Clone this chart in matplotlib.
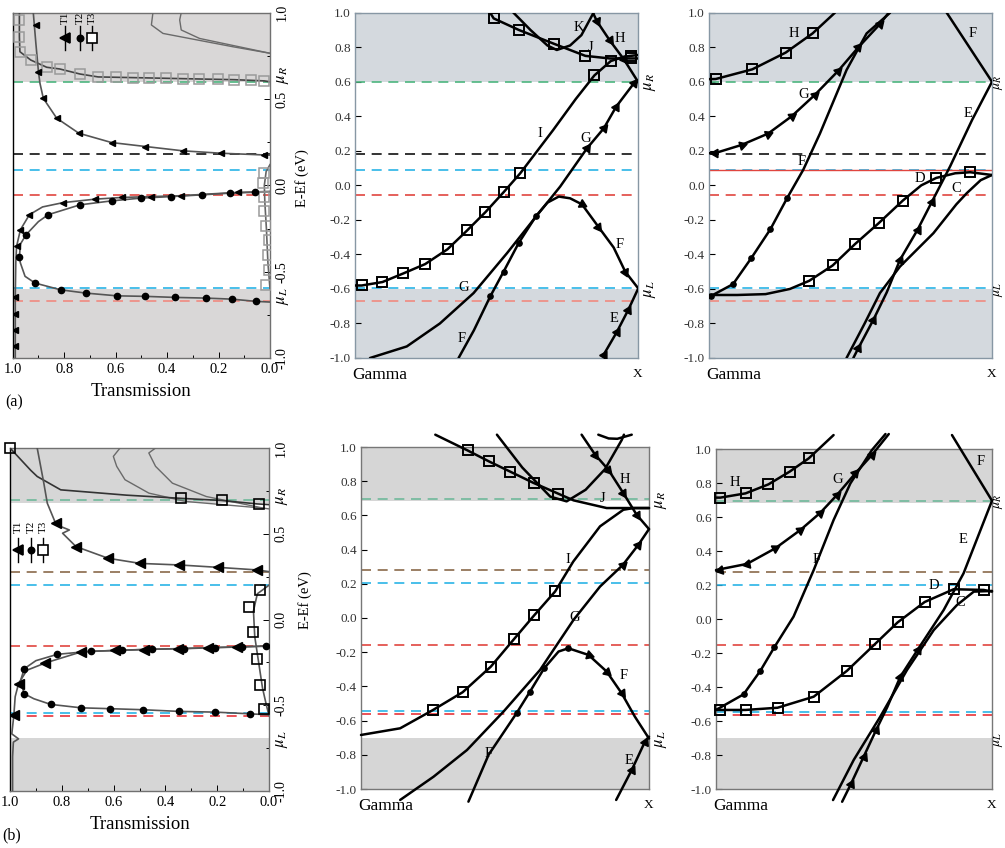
import math
import numpy as np
import matplotlib
matplotlib.use('Agg')
import matplotlib.pyplot as plt
from matplotlib import transforms as mtrans
from matplotlib.ticker import MultipleLocator

plt.rcParams['font.family'] = ['Liberation Serif', 'DejaVu Serif']
plt.rcParams['mathtext.fontset'] = 'stix'

# ---------------- data: energy levels (eV) ----------------
top_levels = [0.6, 0.18, 0.09, -0.055, -0.595, -0.672]
bot_levels = [0.696, 0.278, 0.202, -0.155, -0.545, -0.562]
top_window = (-0.6, 0.6)
bot_window = (-0.70, 0.682)

# ---------------- (a) transmission ----------------
a_T1_low = [(0.99, -1.0), (0.99, -0.93), (0.99, -0.84), (0.99, -0.745), (0.99, -0.645), (0.988, -0.45),
            (0.985, -0.354), (0.97, -0.257), (0.935, -0.17), (0.884, -0.125), (0.804, -0.10), (0.68, -0.08),
            (0.574, -0.07), (0.461, -0.065), (0.345, -0.06), (0.235, -0.05), (0.125, -0.041), (0.016, -0.036),
            (0.0, -0.035)]
a_T1_low_m = [(0.99, -0.93), (0.99, -0.84), (0.99, -0.745), (0.99, -0.645), (0.985, -0.354), (0.97, -0.257),
              (0.935, -0.17), (0.804, -0.10), (0.68, -0.08), (0.574, -0.07), (0.461, -0.065), (0.345, -0.06),
              (0.125, -0.041)]
a_T1_up = [(0.0, 0.175), (0.022, 0.176), (0.19, 0.186), (0.339, 0.20), (0.484, 0.225), (0.616, 0.248),
           (0.743, 0.302), (0.829, 0.389), (0.881, 0.504), (0.894, 0.591), (0.90, 0.659), (0.91, 0.823),
           (0.92, 1.0)]
a_T1_up_m = [(0.022, 0.176), (0.19, 0.186), (0.339, 0.20), (0.484, 0.225), (0.616, 0.248), (0.743, 0.302),
             (0.829, 0.389), (0.881, 0.504), (0.90, 0.659), (0.91, 0.93)]
a_T2 = [(0.0, -0.676), (0.054, -0.672), (0.149, -0.659), (0.25, -0.653), (0.371, -0.649), (0.484, -0.643),
        (0.594, -0.64), (0.716, -0.624), (0.814, -0.605), (0.913, -0.566), (0.952, -0.527), (0.97, -0.45),
        (0.974, -0.416), (0.97, -0.34), (0.948, -0.286), (0.90, -0.21), (0.862, -0.17), (0.739, -0.113),
        (0.616, -0.09), (0.503, -0.074), (0.384, -0.065), (0.265, -0.055), (0.155, -0.045), (0.057, -0.04),
        (0.0, -0.038)]
a_T2_m = [(0.054, -0.672), (0.149, -0.659), (0.25, -0.653), (0.371, -0.649), (0.484, -0.643), (0.594, -0.64),
          (0.716, -0.624), (0.814, -0.605), (0.913, -0.566), (0.974, -0.416), (0.948, -0.286), (0.862, -0.17),
          (0.739, -0.113), (0.616, -0.09), (0.503, -0.074), (0.384, -0.065), (0.265, -0.055), (0.155, -0.045),
          (0.057, -0.04)]
a_T3_low = [(0.0, -0.60), (0.008, -0.45), (0.014, -0.25), (0.02, -0.10), (0.022, 0.0), (0.015, 0.08), (0.0, 0.12)]
a_T3_low_m = [(0.016, -0.576), (0.005, -0.49), (0.009, -0.402), (0.005, -0.316), (0.016, -0.238),
              (0.022, -0.146), (0.025, -0.065), (0.028, 0.013), (0.022, 0.07)]
a_T3_up = [(0.0, 0.60), (0.022, 0.605), (0.138, 0.612), (0.274, 0.616), (0.403, 0.62), (0.532, 0.624),
           (0.668, 0.628), (0.739, 0.645), (0.817, 0.674), (0.868, 0.684), (0.93, 0.726), (0.972, 0.774),
           (0.974, 0.861), (0.974, 1.0)]
a_T3_up_m = [(0.022, 0.605), (0.074, 0.61), (0.138, 0.612), (0.203, 0.614), (0.274, 0.616), (0.339, 0.618),
             (0.403, 0.62), (0.47, 0.622), (0.532, 0.624), (0.6, 0.626), (0.668, 0.628), (0.739, 0.645),
             (0.817, 0.674), (0.868, 0.684), (0.93, 0.726), (0.972, 0.774), (0.974, 0.861), (0.974, 0.958)]
a_grey1 = [(0.455, 1.0), (0.461, 0.929), (0.416, 0.88), (0.145, 0.803), (0.0, 0.765)]
a_grey2 = [(0.345, 1.0), (0.351, 0.958), (0.345, 0.90), (0.274, 0.851), (0.0, 0.765)]

# ---------------- (b) transmission ----------------
b_T1_low = [(0.99, -1.0), (0.99, -0.80), (0.987, -0.715), (0.967, -0.696), (0.993, -0.667), (0.985, -0.556),
            (0.98, -0.45), (0.967, -0.374), (0.935, -0.296), (0.863, -0.253), (0.725, -0.189), (0.595, -0.18),
            (0.484, -0.175), (0.353, -0.17), (0.235, -0.164), (0.124, -0.16), (0.013, -0.156), (0.0, -0.155)]
b_T1_low_m = [(0.985, -0.556), (0.967, -0.374), (0.863, -0.253), (0.725, -0.189), (0.595, -0.18),
              (0.484, -0.175), (0.353, -0.17), (0.235, -0.164), (0.124, -0.16)]
b_T1_up = [(0.0, 0.279), (0.046, 0.289), (0.196, 0.304), (0.346, 0.318), (0.497, 0.327), (0.621, 0.357),
           (0.745, 0.425), (0.797, 0.503), (0.771, 0.522), (0.804, 0.542), (0.824, 0.561), (0.856, 0.678),
           (0.87, 0.80), (0.895, 1.0)]
b_T1_up_m = [(0.046, 0.289), (0.196, 0.304), (0.346, 0.318), (0.497, 0.327), (0.621, 0.357), (0.745, 0.425),
             (0.824, 0.561)]
b_T2 = [(0.0, -0.556), (0.072, -0.55), (0.209, -0.54), (0.346, -0.536), (0.488, -0.526), (0.614, -0.52),
        (0.725, -0.515), (0.843, -0.495), (0.908, -0.462), (0.945, -0.433), (0.96, -0.36), (0.945, -0.287),
        (0.90, -0.24), (0.817, -0.203), (0.689, -0.185), (0.569, -0.18), (0.451, -0.173), (0.327, -0.17),
        (0.209, -0.164), (0.105, -0.16), (0.013, -0.154), (0.0, -0.153)]
b_T2_m = [(0.072, -0.55), (0.209, -0.54), (0.346, -0.536), (0.488, -0.526), (0.614, -0.52), (0.725, -0.515),
          (0.843, -0.495), (0.945, -0.433), (0.945, -0.287), (0.817, -0.203), (0.689, -0.185), (0.569, -0.18),
          (0.451, -0.173), (0.327, -0.17), (0.209, -0.164), (0.105, -0.16), (0.013, -0.154)]
b_T3_low = [(0.0, -0.56), (0.01, -0.50), (0.025, -0.40), (0.04, -0.25), (0.055, -0.10), (0.06, 0.05),
            (0.045, 0.15), (0.0, 0.20)]
b_T3_low_m = [(0.02, -0.52), (0.033, -0.384), (0.046, -0.228), (0.061, -0.072), (0.078, 0.074), (0.033, 0.171)]
b_T3_up = [(1.0, 1.0), (0.92, 0.87), (0.895, 0.834), (0.804, 0.756), (0.55, 0.725), (0.346, 0.707),
           (0.183, 0.694), (0.046, 0.674), (0.0, 0.67)]
b_T3_up_m = [(1.0, 1.0), (0.34, 0.707), (0.18, 0.694), (0.04, 0.674)]
b_grey1 = [(0.575, 1.0), (0.601, 0.951), (0.588, 0.893), (0.556, 0.815), (0.464, 0.737), (0.32, 0.688),
           (0.02, 0.649), (0.0, 0.645)]
b_grey2 = [(0.438, 1.0), (0.464, 0.971), (0.438, 0.893), (0.373, 0.795), (0.242, 0.717), (0.02, 0.649)]

# ---------------- band structure, top middle ----------------
A1_I = [(0.0, -0.58), (0.024, -0.58), (0.097, -0.56), (0.171, -0.51), (0.248, -0.456), (0.327, -0.37),
        (0.397, -0.26), (0.461, -0.155), (0.525, -0.04), (0.584, 0.07), (0.70, 0.32), (0.78, 0.50),
        (0.846, 0.637), (0.904, 0.72), (0.95, 0.745), (1.0, 0.755)]
A1_I_sq = [(0.024, -0.58), (0.097, -0.56), (0.171, -0.51), (0.248, -0.456), (0.327, -0.37), (0.397, -0.26),
           (0.461, -0.155), (0.525, -0.04), (0.584, 0.07), (0.846, 0.637), (0.904, 0.72), (0.976, 0.752)]
A1_J = [(0.47, 1.02), (0.49, 0.967), (0.579, 0.90), (0.703, 0.82), (0.814, 0.75), (0.90, 0.735), (1.0, 0.735)]
A1_J_sq = [(0.49, 0.967), (0.579, 0.90), (0.703, 0.82), (0.814, 0.75), (0.976, 0.737)]
A1_K = [(0.548, 1.02), (0.62, 0.90), (0.68, 0.81), (0.713, 0.784), (0.76, 0.81), (0.80, 0.87), (0.843, 1.0)]
A1_H = [(0.835, 1.02), (0.855, 0.95), (0.90, 0.84), (0.95, 0.73), (1.0, 0.60)]
A1_H_tri = [(0.855, 0.95), (0.90, 0.84), (0.95, 0.73)]
A1_G = [(0.053, -1.0), (0.183, -0.933), (0.30, -0.80), (0.419, -0.624), (0.537, -0.393), (0.64, -0.18),
        (0.725, -0.007), (0.82, 0.215), (0.879, 0.33), (0.923, 0.456), (0.985, 0.59), (1.0, 0.60)]
A1_G_tri = [(0.82, 0.215), (0.879, 0.33), (0.923, 0.456), (0.985, 0.59)]
A1_F = [(0.366, -1.0), (0.42, -0.84), (0.478, -0.643), (0.525, -0.50), (0.578, -0.335), (0.64, -0.177),
        (0.68, -0.10), (0.72, -0.065), (0.76, -0.075), (0.802, -0.11), (0.86, -0.24), (0.914, -0.36),
        (0.955, -0.50), (1.0, -0.595)]
A1_F_dot = [(0.478, -0.643), (0.525, -0.50), (0.578, -0.335), (0.64, -0.177)]
A1_F_tri = [(0.802, -0.11), (0.86, -0.24), (0.955, -0.50)]
A1_E = [(0.879, -0.98), (0.925, -0.85), (0.966, -0.72), (1.0, -0.60)]
A1_E_tri = [(0.879, -0.98), (0.925, -0.85), (0.966, -0.72)]
A1_labels = [('K', 0.79, 0.915), ('H', 0.935, 0.85), ('J', 0.834, 0.80), ('I', 0.654, 0.30),
             ('G', 0.814, 0.273), ('F', 0.937, -0.345), ('G', 0.383, -0.59), ('E', 0.914, -0.77),
             ('F', 0.377, -0.885)]

# ---------------- band structure, top right ----------------
A2_H = [(0.0, 0.615), (0.024, 0.616), (0.153, 0.672), (0.271, 0.769), (0.366, 0.88), (0.445, 1.0)]
A2_H_sq = [(0.024, 0.616), (0.153, 0.672), (0.271, 0.769), (0.366, 0.88)]
A2_G = [(0.0, 0.186), (0.02, 0.186), (0.115, 0.234), (0.209, 0.30), (0.292, 0.40), (0.374, 0.524),
        (0.457, 0.664), (0.528, 0.80), (0.604, 0.934), (0.635, 1.0)]
A2_G_tri = [(0.115, 0.234), (0.209, 0.30), (0.292, 0.40), (0.374, 0.524), (0.457, 0.664), (0.528, 0.80),
            (0.604, 0.934)]
A2_G_rev = [(0.02, 0.186)]
A2_F = [(0.0, -0.65), (0.008, -0.64), (0.085, -0.572), (0.15, -0.42), (0.217, -0.254), (0.276, -0.074),
        (0.333, 0.09), (0.392, 0.30), (0.486, 0.668), (0.557, 0.88), (0.64, 1.0)]
A2_F_dot = [(0.008, -0.64), (0.085, -0.572), (0.15, -0.42), (0.217, -0.254), (0.276, -0.074)]
A2_Fu = [(0.84, 1.0), (1.0, 0.60)]
A2_E = [(0.51, -1.0), (0.528, -0.942), (0.581, -0.778), (0.628, -0.62), (0.675, -0.431), (0.737, -0.257),
        (0.788, -0.094), (0.852, 0.11), (0.93, 0.38), (1.0, 0.60)]
A2_E_tri = [(0.528, -0.942), (0.581, -0.778), (0.675, -0.431), (0.737, -0.257), (0.788, -0.094)]
A2_C = [(0.486, -1.0), (0.55, -0.80), (0.604, -0.624), (0.675, -0.47), (0.793, -0.277), (0.874, -0.11),
        (0.911, -0.045), (0.96, 0.03), (1.0, 0.06)]
A2_D = [(0.0, -0.635), (0.10, -0.635), (0.20, -0.63), (0.286, -0.60), (0.354, -0.553), (0.437, -0.464),
        (0.516, -0.34), (0.599, -0.22), (0.685, -0.088), (0.75, 0.0), (0.803, 0.043), (0.87, 0.07),
        (0.923, 0.076), (1.0, 0.06)]
A2_D_sq = [(0.354, -0.553), (0.437, -0.464), (0.516, -0.34), (0.599, -0.22), (0.685, -0.088), (0.803, 0.043),
           (0.923, 0.076)]
A2_labels = [('H', 0.30, 0.88), ('G', 0.333, 0.527), ('F', 0.327, 0.138), ('F', 0.93, 0.88),
             ('E', 0.914, 0.418), ('D', 0.746, 0.041), ('C', 0.874, -0.016)]

# ---------------- band structure, bottom middle ----------------
B1_I = [(0.0, -0.684), (0.136, -0.645), (0.25, -0.538), (0.353, -0.434), (0.451, -0.284), (0.531, -0.124),
        (0.601, 0.015), (0.674, 0.155), (0.737, 0.33), (0.83, 0.536), (0.911, 0.633), (0.946, 0.643),
        (1.0, 0.643)]
B1_I_sq = [(0.25, -0.538), (0.353, -0.434), (0.451, -0.284), (0.531, -0.124), (0.601, 0.015), (0.674, 0.155)]
B1_J = [(0.258, 1.072), (0.37, 0.98), (0.444, 0.916), (0.518, 0.856), (0.599, 0.79), (0.685, 0.727),
        (0.738, 0.688), (0.853, 0.643), (1.0, 0.643)]
B1_J_sq = [(0.37, 0.98), (0.444, 0.916), (0.518, 0.856), (0.599, 0.79), (0.685, 0.727)]
B1_K = [(0.472, 1.072), (0.56, 0.88), (0.657, 0.71), (0.714, 0.682), (0.78, 0.75), (0.847, 0.87),
        (0.905, 1.04), (0.913, 1.072)]
B1_arc = [(0.824, 1.072), (0.86, 1.05), (0.89, 1.048), (0.94, 1.072)]
B1_H = [(0.766, 1.072), (0.813, 0.955), (0.859, 0.867), (0.911, 0.73), (0.957, 0.604), (1.0, 0.52)]
B1_H_tri = [(0.813, 0.955), (0.859, 0.867), (0.911, 0.73), (0.957, 0.604)]
B1_G = [(0.136, -1.064), (0.252, -0.928), (0.368, -0.772), (0.495, -0.547), (0.622, -0.303),
        (0.738, -0.011), (0.83, 0.184), (0.909, 0.31), (0.963, 0.428), (1.0, 0.52)]
B1_G_tri = [(0.909, 0.31), (0.963, 0.428)]
B1_F = [(0.373, -1.074), (0.443, -0.80), (0.54, -0.557), (0.587, -0.43), (0.636, -0.294), (0.686, -0.196),
        (0.72, -0.177), (0.79, -0.216), (0.853, -0.313), (0.905, -0.44), (0.951, -0.577), (1.0, -0.705)]
B1_F_dot = [(0.54, -0.557), (0.587, -0.43), (0.636, -0.294), (0.72, -0.177)]
B1_F_tri = [(0.79, -0.216), (0.853, -0.313), (0.905, -0.44)]
B1_E = [(0.886, -1.064), (0.94, -0.889), (0.986, -0.723), (1.0, -0.694)]
B1_E_tri = [(0.94, -0.889), (0.986, -0.723)]
B1_labels = [('H', 0.917, 0.809), ('J', 0.838, 0.70), ('I', 0.72, 0.34), ('G', 0.743, 0.005),
             ('F', 0.911, -0.339), ('F', 0.443, -0.79), ('E', 0.932, -0.834)]

# ---------------- band structure, bottom right ----------------
B2_H = [(0.0, 0.714), (0.016, 0.714), (0.107, 0.739), (0.19, 0.792), (0.267, 0.867), (0.336, 0.945),
        (0.426, 1.082)]
B2_H_sq = [(0.016, 0.714), (0.107, 0.739), (0.19, 0.792), (0.267, 0.867), (0.336, 0.945)]
B2_G = [(0.0, 0.288), (0.112, 0.324), (0.215, 0.416), (0.306, 0.524), (0.378, 0.625), (0.438, 0.729),
        (0.505, 0.857), (0.565, 0.965), (0.626, 1.088)]
B2_G_tri = [(0.215, 0.416), (0.306, 0.524), (0.378, 0.625), (0.438, 0.729), (0.505, 0.857), (0.565, 0.965)]
B2_G_rev = [(0.016, 0.29), (0.112, 0.324)]
B2_F = [(0.0, -0.535), (0.1, -0.443), (0.161, -0.304), (0.211, -0.167), (0.281, 0.014), (0.354, 0.288),
        (0.426, 0.582), (0.487, 0.798), (0.565, 0.994), (0.614, 1.088)]
B2_F_dot = [(0.1, -0.443), (0.161, -0.304), (0.211, -0.167)]
B2_Fu = [(0.855, 1.082), (1.0, 0.696)]
B2_E = [(0.457, -1.075), (0.489, -0.97), (0.535, -0.81), (0.581, -0.65), (0.62, -0.52), (0.668, -0.339),
        (0.731, -0.18), (0.825, 0.053), (0.897, 0.269), (1.0, 0.696)]
B2_E_tri = [(0.489, -0.97), (0.535, -0.81), (0.581, -0.65), (0.668, -0.339), (0.731, -0.18)]
B2_C = [(0.424, -1.065), (0.499, -0.829), (0.595, -0.575), (0.692, -0.30), (0.789, -0.065), (0.873, 0.082),
        (0.934, 0.161), (1.0, 0.165)]
B2_D = [(0.0, -0.535), (0.107, -0.535), (0.223, -0.522), (0.354, -0.457), (0.475, -0.304), (0.575, -0.149),
        (0.658, -0.02), (0.756, 0.1), (0.861, 0.175), (0.97, 0.171), (1.0, 0.161)]
B2_D_sq = [(0.016, -0.535), (0.107, -0.535), (0.223, -0.522), (0.354, -0.457), (0.475, -0.304),
           (0.575, -0.149), (0.658, -0.02), (0.756, 0.1), (0.861, 0.175), (0.97, 0.171)]
B2_labels = [('H', 0.07, 0.802), ('G', 0.442, 0.822), ('F', 0.364, 0.351), ('F', 0.958, 0.925),
             ('E', 0.895, 0.465), ('D', 0.791, 0.196), ('C', 0.885, 0.096)]

y_ticks_band = [-1.0, -0.8, -0.6, -0.4, -0.2, 0.0, 0.2, 0.4, 0.6, 0.8, 1.0]
t_ticks = [1.0, 0.8, 0.6, 0.4, 0.2, 0.0]
e_ticks_left = [-1.0, -0.5, 0.0, 0.5, 1.0]

# ---------------- styling ----------------
top_level_colors = ['#4db57f', '#111111', '#2ab4e6', '#e0453f', '#2ab4e6', '#f08a80']
bot_level_colors = ['#6fb89a', '#8a6a4a', '#2ab4e6', '#e0453f', '#2ab4e6', '#e8333a']
SHADE_TOP_BAND = '#d4d9de'
SHADE_TOP_LEFT = '#d9d7d7'
SHADE_BOT = '#d6d6d6'

W, H = 1005, 848
fig = plt.figure(figsize=(W / 100, H / 100), dpi=100)


def px_axes(x0, y0, x1, y1):
    return fig.add_axes([x0 / W, 1 - y1 / H, (x1 - x0) / W, (y1 - y0) / H])


def xs(pts):
    return [p[0] for p in pts]


def ys(pts):
    return [p[1] for p in pts]


def levels(ax, vals, cols):
    for v, c in zip(vals, cols):
        ax.axhline(v, color=c, lw=1.2, dashes=(6, 4), zorder=2)


def curve(ax, pts, clip=True, color='k', lw=1.8):
    ax.plot(xs(pts), ys(pts), color=color, lw=lw, clip_on=clip, zorder=4, solid_capstyle='round')


def squares(ax, pts, clip=True, ms=7.5, ec='k'):
    ax.plot(xs(pts), ys(pts), 's', ms=ms, mfc='none', mec=ec, mew=1.4, clip_on=clip, zorder=5)


def dots(ax, pts, clip=True, ms=3.8):
    ax.plot(xs(pts), ys(pts), 'o', ms=ms, color='k', clip_on=clip, zorder=5)


def arrows(ax, line, pts, clip=True, reverse=False, ms=7):
    T = ax.transData
    disp = T.transform(np.array(line, dtype=float))
    for p in pts:
        q = T.transform(np.array(p, dtype=float))
        best, bi = 1e18, 0
        for i in range(len(disp) - 1):
            a, b = disp[i], disp[i + 1]
            ab = b - a
            t = np.clip(np.dot(q - a, ab) / max(np.dot(ab, ab), 1e-9), 0, 1)
            d = np.linalg.norm(a + t * ab - q)
            if d < best:
                best, bi = d, i
        d = disp[bi + 1] - disp[bi]
        ang = math.degrees(math.atan2(d[1], d[0]))
        if reverse:
            ang += 180
        ax.plot([p[0]], [p[1]], marker=(3, 0, ang - 90), ms=ms, color='k', clip_on=clip, zorder=6,
                linestyle='none')


def band_axes(x0, y0, x1, y1, window, shade, spine):
    ax = px_axes(x0, y0, x1, y1)
    ax.set_xlim(0, 1)
    ax.set_ylim(-1, 1)
    ax.axhspan(window[1], 1.0, color=shade, zorder=0, lw=0)
    ax.axhspan(-1.0, window[0], color=shade, zorder=0, lw=0)
    ax.set_xticks([])
    ax.set_yticks(y_ticks_band)
    ax.set_yticklabels(['%.1f' % v for v in y_ticks_band], fontsize=9.5, color='#333333')
    ax.tick_params(axis='y', direction='in', length=4, width=0.8, pad=3)
    for s in ax.spines.values():
        s.set_color(spine)
        s.set_linewidth(1.0)
    ax.text(-0.01, -0.025, 'Gamma', transform=ax.transAxes, ha='left', va='top', fontsize=12.5)
    ax.text(1.0, -0.03, 'X', transform=ax.transAxes, ha='center', va='top', fontsize=9.5)
    return ax


def mu_labels(ax, yR, yL, x=1.015, fs=12):
    tr = mtrans.blended_transform_factory(ax.transAxes, ax.transData)
    ax.text(x, yR, r'$\mu_R$', transform=tr, rotation=90, ha='left', va='center', fontsize=fs)
    ax.text(x, yL, r'$\mu_L$', transform=tr, rotation=90, ha='left', va='center', fontsize=fs)


def letters(ax, labs):
    for s, x, y in labs:
        ax.text(x, y, s, fontsize=10.5, ha='center', va='center', zorder=7)


def trans_axes(x0, y0, x1, y1, window, shade, label):
    ax = px_axes(x0, y0, x1, y1)
    ax.set_xlim(1.0, 0.0)
    ax.set_ylim(-1, 1)
    ax.axhspan(window[1], 1.0, color=shade, zorder=0, lw=0)
    ax.axhspan(-1.0, window[0], color=shade, zorder=0, lw=0)
    ax.set_xticks(t_ticks)
    ax.set_xticklabels(['%.1f' % v for v in t_ticks], fontsize=10.5)
    ax.xaxis.set_minor_locator(MultipleLocator(0.1))
    ax.yaxis.tick_right()
    ax.set_yticks(e_ticks_left)
    ax.set_yticklabels(['%.1f' % v for v in e_ticks_left], fontsize=10, rotation=90, va='center')
    ax.yaxis.set_minor_locator(MultipleLocator(0.25))
    ax.tick_params(axis='both', which='both', direction='in', width=0.7)
    ax.tick_params(axis='both', which='major', length=4)
    ax.tick_params(axis='both', which='minor', length=2)
    ax.tick_params(axis='y', pad=4)
    for k, s in ax.spines.items():
        s.set_color('#707070')
        s.set_linewidth(1.0)
    ax.spines['left'].set_color('k')
    ax.set_xlabel('Transmission', fontsize=13.5, labelpad=5)
    ax.text(-0.03, -0.13, label, transform=ax.transAxes, ha='left', va='center', fontsize=11.5)
    return ax


def trans_curve(ax, pts, color='#555555', lw=1.2):
    ax.plot(xs(pts), ys(pts), color=color, lw=lw, zorder=4)


def legend_T(ax, xcols, ytext, y0, y1, ym, sq_color):
    kinds = [('T1', '<', 'k', 6.5), ('T2', 'o', 'k', 4.5), ('T3', 's', 'none', 7.5)]
    for (name, mk, fc, ms), x in zip(kinds, xcols):
        ax.plot([x, x], [y0, y1], color='k', lw=1.0, transform=ax.transAxes, zorder=8)
        ax.plot([x], [ym], marker=mk, ms=ms, mfc=fc if mk != 's' else 'white',
                mec=sq_color if mk == 's' else 'k', mew=1.2, transform=ax.transAxes, zorder=9,
                linestyle='none')
        ax.text(x, ytext, name, rotation=90, ha='center', va='center', fontsize=8,
                transform=ax.transAxes, zorder=9)


# ================= (a) left transmission =================
axa = trans_axes(12.7, 12.7, 270, 358, top_window, SHADE_TOP_LEFT, '(a)')
levels(axa, top_levels, top_level_colors)
trans_curve(axa, a_grey1, color='#6a6a6a', lw=1.0)
trans_curve(axa, a_grey2, color='#6a6a6a', lw=1.0)
trans_curve(axa, a_T3_low, color='#666666')
trans_curve(axa, a_T3_up, color='#444444')
axa.plot(xs(a_T3_low_m), ys(a_T3_low_m), 's', ms=6.5, mfc='none', mec='#9a9a9a', mew=1.1, zorder=5)
axa.plot(xs(a_T3_up_m), ys(a_T3_up_m), 's', ms=6.5, mfc='none', mec='#9a9a9a', mew=1.1, zorder=5)
trans_curve(axa, a_T1_low)
trans_curve(axa, a_T1_up)
trans_curve(axa, a_T2)
axa.plot(xs(a_T1_low_m), ys(a_T1_low_m), '<', ms=5, color='k', zorder=6)
axa.plot(xs(a_T1_up_m), ys(a_T1_up_m), '<', ms=5, color='k', zorder=6)
axa.plot(xs(a_T2_m), ys(a_T2_m), 'o', ms=4.5, color='k', zorder=6)
mu_labels(axa, 0.64, -0.64, x=1.02)
legend_T(axa, [0.203, 0.262, 0.309], 0.985, 0.962, 0.892, 0.927, 'k')

fig.text(302 / W, 1 - 178 / H, 'E-Ef (eV)', rotation=90, ha='center', va='center', fontsize=10.5)

# ================= top middle =================
ax1 = band_axes(355, 12.7, 638, 358, top_window, SHADE_TOP_BAND, '#8797a4')
levels(ax1, top_levels, top_level_colors)
for c in (A1_I, A1_J, A1_K, A1_H, A1_G, A1_F, A1_E):
    curve(ax1, c)
squares(ax1, A1_I_sq)
squares(ax1, A1_J_sq)
dots(ax1, A1_F_dot)
arrows(ax1, A1_H, A1_H_tri)
arrows(ax1, A1_G, A1_G_tri)
arrows(ax1, A1_F, A1_F_tri)
arrows(ax1, A1_E, A1_E_tri)
letters(ax1, A1_labels)
mu_labels(ax1, 0.6, -0.6)

# ================= top right =================
ax2 = band_axes(709, 12.7, 992, 358, top_window, SHADE_TOP_BAND, '#8797a4')
levels(ax2, top_levels, top_level_colors)
ax2.axhline(0.09, color='#e0453f', lw=1.0, zorder=2)
for c in (A2_H, A2_G, A2_F, A2_Fu, A2_E, A2_C, A2_D):
    curve(ax2, c)
squares(ax2, A2_H_sq)
squares(ax2, A2_D_sq)
dots(ax2, A2_F_dot)
arrows(ax2, A2_G, A2_G_tri)
arrows(ax2, A2_G, A2_G_rev, reverse=True)
arrows(ax2, A2_E, A2_E_tri)
letters(ax2, A2_labels)
mu_labels(ax2, 0.6, -0.6, x=1.0, fs=10)

# ================= (b) left transmission =================
axb = trans_axes(10, 448, 269, 791, (-0.69, 0.682), SHADE_BOT, '(b)')
levels(axb, bot_levels, bot_level_colors)
trans_curve(axb, b_grey1, color='#6a6a6a', lw=1.0)
trans_curve(axb, b_grey2, color='#6a6a6a', lw=1.0)
trans_curve(axb, b_T3_low, color='#555555')
trans_curve(axb, b_T3_up, color='#333333')
axb.plot(xs(b_T3_low_m), ys(b_T3_low_m), 's', ms=7.5, mfc='none', mec='k', mew=1.2, zorder=5)
axb.plot(xs(b_T3_up_m), ys(b_T3_up_m), 's', ms=6.5, mfc='none', mec='k', mew=1.2, zorder=5, clip_on=False)
trans_curve(axb, b_T1_low)
trans_curve(axb, b_T1_up)
trans_curve(axb, b_T2)
axb.plot(xs(b_T1_low_m), ys(b_T1_low_m), '<', ms=7, color='k', zorder=6)
axb.plot(xs(b_T1_up_m), ys(b_T1_up_m), '<', ms=7, color='k', zorder=6)
axb.plot(xs(b_T2_m), ys(b_T2_m), 'o', ms=4.5, color='k', zorder=6)
mu_labels(axb, 0.72, -0.70, x=1.02)
legend_T(axb, [0.031, 0.081, 0.127], 0.77, 0.738, 0.668, 0.703, 'k')

fig.text(305 / W, 1 - 600 / H, 'E-Ef (eV)', rotation=90, ha='center', va='center', fontsize=10.5)

# ================= bottom middle =================
ax3 = band_axes(361, 447, 649, 789, bot_window, SHADE_BOT, '#777777')
levels(ax3, bot_levels, bot_level_colors)
for c in (B1_I, B1_J, B1_K, B1_arc, B1_H, B1_G, B1_F, B1_E):
    curve(ax3, c, clip=False)
squares(ax3, B1_I_sq, clip=False)
squares(ax3, B1_J_sq, clip=False)
dots(ax3, B1_F_dot, clip=False)
arrows(ax3, B1_H, B1_H_tri, clip=False)
arrows(ax3, B1_G, B1_G_tri, clip=False)
arrows(ax3, B1_F, B1_F_tri, clip=False)
arrows(ax3, B1_E, B1_E_tri, clip=False)
letters(ax3, B1_labels)
mu_labels(ax3, 0.69, -0.71)

# ================= bottom right =================
ax4 = band_axes(716, 449, 992, 789, bot_window, SHADE_BOT, '#777777')
levels(ax4, bot_levels, bot_level_colors)
for c in (B2_H, B2_G, B2_F, B2_Fu, B2_E, B2_C, B2_D):
    curve(ax4, c, clip=False)
squares(ax4, B2_H_sq, clip=False)
squares(ax4, B2_D_sq, clip=False)
dots(ax4, B2_F_dot, clip=False)
arrows(ax4, B2_G, B2_G_tri, clip=False)
arrows(ax4, B2_G, B2_G_rev, clip=False, reverse=True)
arrows(ax4, B2_E, B2_E_tri, clip=False)
letters(ax4, B2_labels)
mu_labels(ax4, 0.69, -0.71, x=1.0, fs=10)

fig.savefig('out.png', dpi=100)
